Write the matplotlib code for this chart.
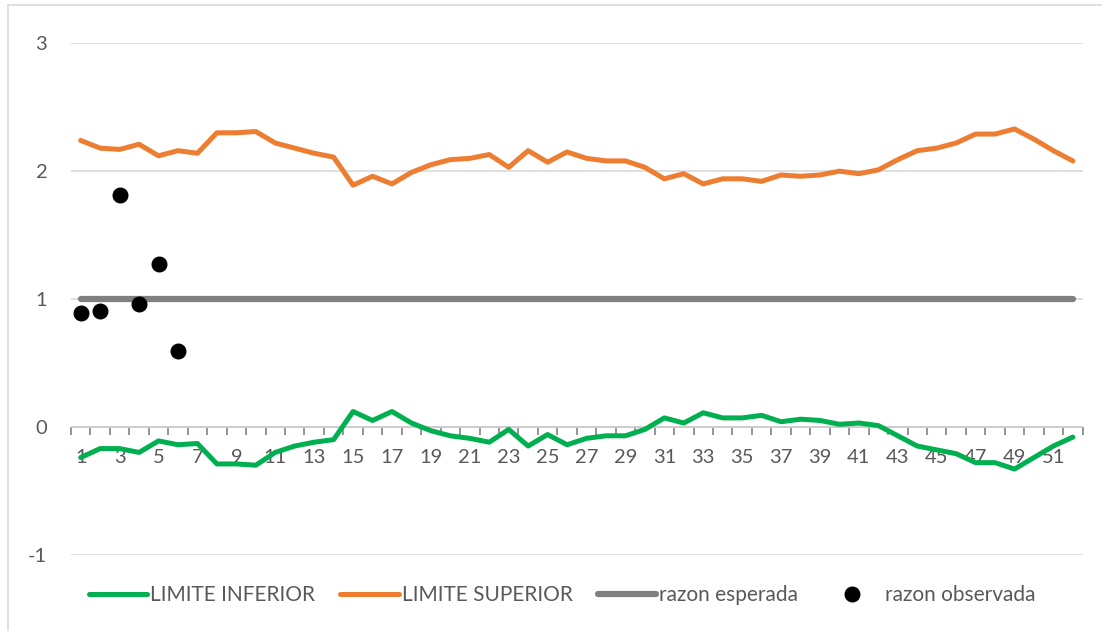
import numpy as np
import matplotlib.pyplot as plt
from matplotlib.lines import Line2D

# weeks 1..52
semanas = list(range(1, 53))

limite_superior = [2.24, 2.18, 2.17, 2.21, 2.12, 2.16, 2.14, 2.30, 2.30, 2.31,
                   2.22, 2.18, 2.14, 2.11, 1.89, 1.96, 1.90, 1.99, 2.05, 2.09,
                   2.10, 2.13, 2.03, 2.16, 2.07, 2.15, 2.10, 2.08, 2.08, 2.03,
                   1.94, 1.98, 1.90, 1.94, 1.94, 1.92, 1.97, 1.96, 1.97, 2.00,
                   1.98, 2.01, 2.09, 2.16, 2.18, 2.22, 2.29, 2.29, 2.33, 2.25,
                   2.16, 2.08]

limite_inferior = [-0.24, -0.17, -0.17, -0.20, -0.11, -0.14, -0.13, -0.29, -0.29, -0.30,
                   -0.20, -0.15, -0.12, -0.10, 0.12, 0.05, 0.12, 0.03, -0.03, -0.07,
                   -0.09, -0.12, -0.02, -0.15, -0.06, -0.14, -0.09, -0.07, -0.07, -0.02,
                   0.07, 0.03, 0.11, 0.07, 0.07, 0.09, 0.04, 0.06, 0.05, 0.02,
                   0.03, 0.01, -0.07, -0.15, -0.18, -0.21, -0.28, -0.28, -0.33, -0.24,
                   -0.15, -0.08]

razon_esperada = [1] * 52

semanas_obs = [1, 2, 3, 4, 5, 6]
razon_observada = [0.89, 0.91, 1.81, 0.96, 1.27, 0.59]

plt.rcParams['font.family'] = ['Lato', 'DejaVu Sans']

fig = plt.figure(figsize=(11.02, 6.31), dpi=100)
ax = fig.add_axes([0.0644, 0.1209, 0.918, 0.8105])

gris_txt = '#595959'

ax.plot(semanas, limite_inferior, color='#00B050', lw=3.6, solid_capstyle='round',
        solid_joinstyle='round', label='LIMITE INFERIOR', zorder=3)
ax.plot(semanas, limite_superior, color='#ED7D31', lw=3.6, solid_capstyle='round',
        solid_joinstyle='round', label='LIMITE SUPERIOR', zorder=3)
ax.plot(semanas, razon_esperada, color='#808080', lw=4.5, solid_capstyle='round',
        label='razon esperada', zorder=3)
ax.plot(semanas_obs, razon_observada, 'o', color='black', ms=10.5,
        label='razon observada', zorder=4)

ax.set_xlim(0.5, 52.5)
ax.set_ylim(-1, 3)

ax.set_yticks([-1, 0, 1, 2, 3])
ax.set_yticklabels(['-1', '0', '1', '2', '3'])
ax.set_xticks(semanas[::2])
ax.set_xticks(np.arange(0.5, 53, 1), minor=True)

ax.grid(axis='y', color='#d9d9d9', lw=1.2, zorder=0)
ax.axhline(0, color='#8c8c8c', lw=1.3, zorder=1)

for s in ax.spines.values():
    s.set_visible(False)

ax.tick_params(axis='y', length=0, pad=17, labelsize=14.5, labelcolor=gris_txt)
ax.tick_params(axis='x', which='major', length=0, pad=16, labelsize=14.5,
               labelcolor=gris_txt)
ax.tick_params(axis='x', which='minor', length=6, width=1.3, color='#8c8c8c')
# ticks hang from the zero line, not from the bottom of the axes
ax.xaxis.set_ticks_position('bottom')
ax.spines['bottom'].set_position(('data', 0))

# chart area border (top and left visible)
fig.add_artist(Line2D([8 / 1102, 1], [1 - 4.5 / 631, 1 - 4.5 / 631],
                      color='#d9d9d9', lw=1.2))
fig.add_artist(Line2D([8 / 1102, 8 / 1102], [0, 1 - 4.5 / 631],
                      color='#d9d9d9', lw=1.2))

fig.legend(loc='center', bbox_to_anchor=(0.51, 1 - 595 / 631), ncol=4,
           frameon=False, fontsize=15, labelcolor=gris_txt,
           handlelength=2.8, handletextpad=0.15, columnspacing=1.2)

fig.savefig('out.png', dpi=100)
